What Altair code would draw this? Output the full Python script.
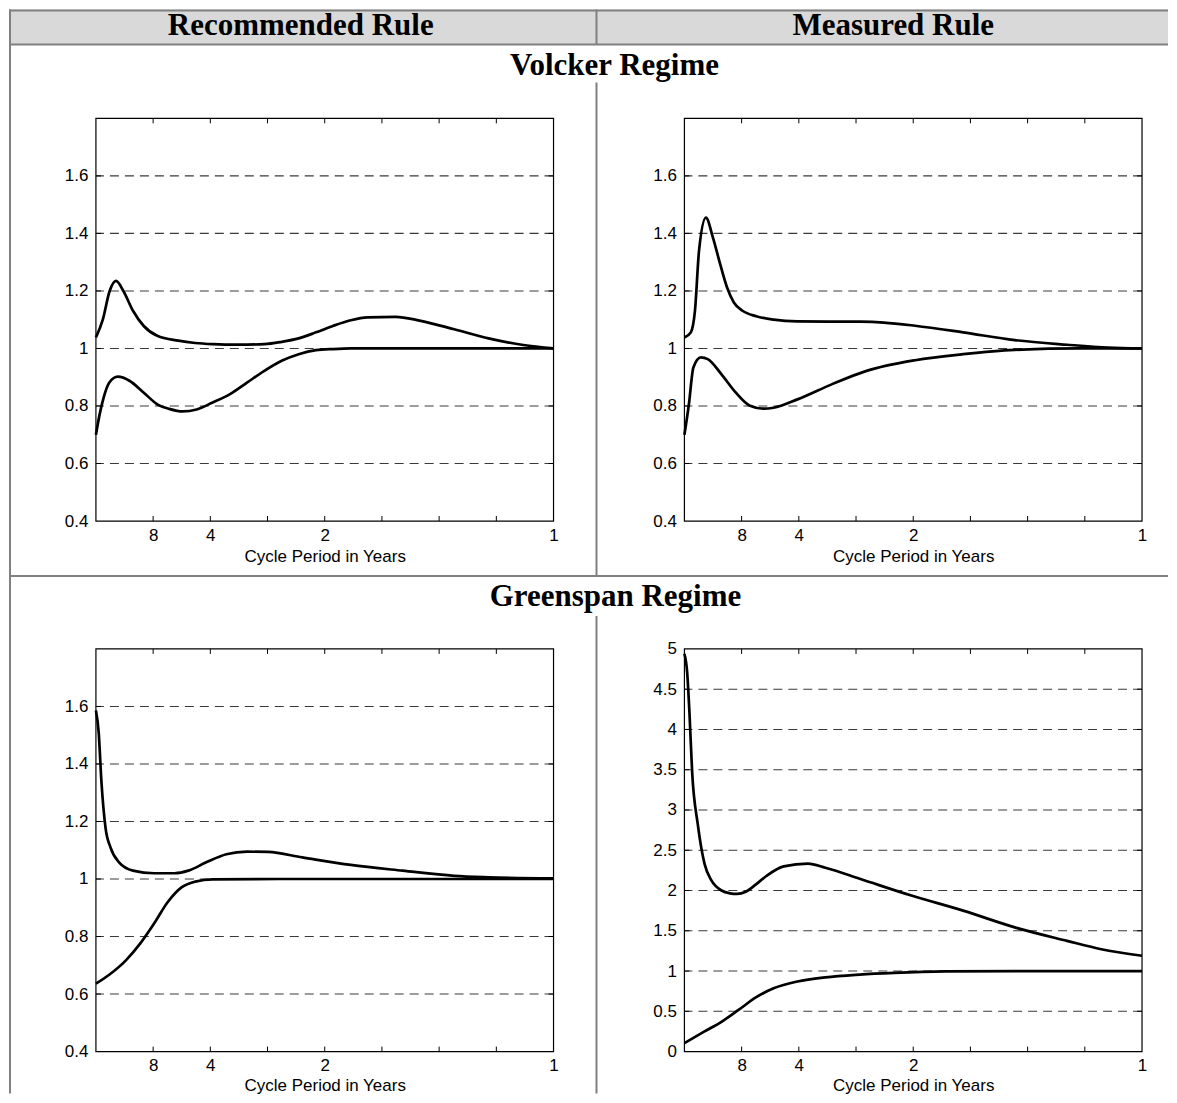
import altair as alt
import pandas as pd

# ---------------- data (frequency in cycles per year, gain) ----------------
# Volcker regime, recommended rule
VR_UP_F = [0, 0.015, 0.03, 0.044, 0.06, 0.081, 0.104, 0.134, 0.18, 0.217, 0.255, 0.31,
           0.368, 0.406, 0.443, 0.481, 0.519, 0.557, 0.594, 0.655, 0.707, 0.783, 0.858, 0.934, 1.0]
VR_UP_V = [1.038, 1.1, 1.2, 1.235, 1.2, 1.131, 1.079, 1.044, 1.027, 1.019, 1.015, 1.013,
           1.015, 1.023, 1.035, 1.056, 1.079, 1.098, 1.108, 1.11, 1.097, 1.067, 1.035, 1.012, 1.0]
VR_LO_F = [0, 0.008, 0.017, 0.029, 0.048, 0.074, 0.104, 0.135, 0.16, 0.19, 0.22, 0.255, 0.293,
           0.33, 0.368, 0.406, 0.443, 0.481, 0.519, 0.557, 0.7, 0.85, 1.0]
VR_LO_V = [0.70, 0.77, 0.83, 0.881, 0.902, 0.887, 0.847, 0.805, 0.79, 0.781, 0.788, 0.812, 0.841,
           0.881, 0.922, 0.957, 0.98, 0.994, 0.998, 1.0, 1.0, 1.0, 1.0]

# Volcker regime, measured rule
VM_UP_F = [0, 0.014, 0.023, 0.032, 0.047, 0.062, 0.078, 0.093, 0.108, 0.127, 0.157, 0.195,
           0.247, 0.383, 0.436, 0.504, 0.609, 0.722, 0.836, 0.926, 1.0]
VM_UP_V = [1.038, 1.056, 1.131, 1.341, 1.455, 1.387, 1.294, 1.213, 1.16, 1.131, 1.112, 1.1,
           1.094, 1.093, 1.09, 1.079, 1.056, 1.029, 1.013, 1.003, 1.0]
VM_LO_F = [0, 0.0098, 0.0196, 0.036, 0.051, 0.081, 0.112, 0.142, 0.172, 0.195, 0.247, 0.323,
           0.398, 0.504, 0.609, 0.722, 0.866, 1.0]
VM_LO_V = [0.70, 0.806, 0.934, 0.969, 0.963, 0.91, 0.847, 0.802, 0.791, 0.794, 0.823, 0.876,
           0.922, 0.959, 0.98, 0.995, 1.0, 1.0]

# Greenspan regime, recommended rule
GR_UP_F = [0, 0.006, 0.012, 0.021, 0.032, 0.051, 0.081, 0.127, 0.172, 0.202, 0.24, 0.285,
           0.33, 0.376, 0.451, 0.557, 0.67, 0.783, 0.858, 1.0]
GR_UP_V = [1.586, 1.511, 1.339, 1.178, 1.109, 1.057, 1.029, 1.02, 1.02, 1.029, 1.057, 1.086,
           1.095, 1.094, 1.075, 1.049, 1.029, 1.011, 1.006, 1.002]
GR_LO_F = [0, 0.029, 0.066, 0.097, 0.127, 0.157, 0.187, 0.217, 0.255, 0.4, 0.6, 0.8, 1.0]
GR_LO_V = [0.636, 0.667, 0.718, 0.776, 0.845, 0.92, 0.971, 0.991, 0.999, 1.0, 1.0, 1.0, 1.0]

# Greenspan regime, measured rule
GM_UP_F = [0, 0.006, 0.011, 0.017, 0.029, 0.044, 0.059, 0.081, 0.1, 0.115, 0.134, 0.155, 0.179,
           0.217, 0.27, 0.308, 0.383, 0.496, 0.609, 0.722, 0.836, 0.911, 1.0]
GM_UP_V = [4.94, 4.71, 4.21, 3.46, 2.83, 2.33, 2.125, 2.0, 1.965, 1.958, 1.985, 2.07, 2.18,
           2.3, 2.333, 2.283, 2.146, 1.937, 1.75, 1.542, 1.375, 1.271, 1.19]
GM_LO_F = [0, 0.044, 0.081, 0.119, 0.157, 0.195, 0.247, 0.308, 0.383, 0.458, 0.571, 0.75, 1.0]
GM_LO_V = [0.104, 0.25, 0.37, 0.52, 0.675, 0.785, 0.87, 0.922, 0.956, 0.977, 0.995, 1.0, 1.0]

# axes
FREQ_TICKS = [0.125, 0.25, 0.375, 0.5, 0.625, 0.75, 0.875]
X_LABEL_VALUES = [0.125, 0.25, 0.5, 1.0]
Y_VALUES_A = [0.4, 0.6, 0.8, 1.0, 1.2, 1.4, 1.6, 1.8]
Y_GRID_A = [0.6, 0.8, 1.0, 1.2, 1.4, 1.6]
Y_VALUES_B = [0, 0.5, 1.0, 1.5, 2.0, 2.5, 3.0, 3.5, 4.0, 4.5, 5.0]
Y_GRID_B = [0.5, 1.0, 1.5, 2.0, 2.5, 3.0, 3.5, 4.0, 4.5]

COL_HEADERS = ["Recommended Rule", "Measured Rule"]
ROW_HEADERS = ["Volcker Regime", "Greenspan Regime"]
X_TITLE = "Cycle Period in Years"

W, H = 458, 403
SANS = "Liberation Sans"
SERIF = "Liberation Serif"
BORDER = "#808080"
FS = 17


def panel(up_f, up_v, lo_f, lo_v, ydom, yvals, ygrid, label_expr, title_pad=3, extra=None):
    df = pd.DataFrame({
        "f": up_f + lo_f,
        "v": up_v + lo_v,
        "s": ["upper"] * len(up_f) + ["lower"] * len(lo_f),
    })
    xs = alt.Scale(domain=[0, 1], nice=False, zero=False)
    ys = alt.Scale(domain=ydom, nice=False, zero=False)
    xax = alt.Axis(
        values=X_LABEL_VALUES,
        labelExpr="'' + round(1 / datum.value)",
        title=X_TITLE, ticks=False, domain=False, grid=False,
        labelFlush=False, labelPadding=6, titlePadding=title_pad,
        labelFont=SANS, labelFontSize=FS, labelColor="black",
        titleFont=SANS, titleFontSize=FS, titleFontWeight="normal", titleColor="black")
    yax = alt.Axis(
        values=yvals, labelExpr=label_expr, title=None,
        ticks=False, domain=False, grid=False, labelPadding=8,
        labelFont=SANS, labelFontSize=FS, labelColor="black")

    grid = alt.Chart(pd.DataFrame({"v": ygrid})).mark_rule(
        color="#3a3a3a", strokeWidth=1.1, strokeDash=[9, 6]
    ).encode(y=alt.Y("v:Q", scale=ys, axis=yax))

    xt = pd.DataFrame({"f": FREQ_TICKS})
    xt_top = alt.Chart(xt).mark_rule(color="black", strokeWidth=1).encode(
        x=alt.X("f:Q", scale=xs, axis=xax), y=alt.value(0), y2=alt.value(5))
    xt_bot = alt.Chart(xt).mark_rule(color="black", strokeWidth=1).encode(
        x=alt.X("f:Q", scale=xs, axis=xax), y=alt.value(H - 5), y2=alt.value(H))
    yt = pd.DataFrame({"v": ygrid})
    yt_l = alt.Chart(yt).mark_rule(color="black", strokeWidth=1).encode(
        y=alt.Y("v:Q", scale=ys, axis=yax), x=alt.value(0), x2=alt.value(5))
    yt_r = alt.Chart(yt).mark_rule(color="black", strokeWidth=1).encode(
        y=alt.Y("v:Q", scale=ys, axis=yax), x=alt.value(W - 5), x2=alt.value(W))

    frame = alt.Chart(pd.DataFrame({"a": [0]})).mark_rect(
        fill=None, fillOpacity=0, stroke="black", strokeWidth=1.2
    ).encode(x=alt.value(0), x2=alt.value(W), y=alt.value(0), y2=alt.value(H))

    lines = alt.Chart(df).mark_line(
        color="black", strokeWidth=2.7, interpolate="monotone"
    ).encode(
        x=alt.X("f:Q", scale=xs, axis=xax),
        y=alt.Y("v:Q", scale=ys, axis=yax),
        detail="s:N",
    )
    layers = [grid, xt_top, xt_bot, yt_l, yt_r, frame, lines]
    if extra:
        layers = extra + layers
    return alt.layer(*layers).properties(width=W, height=H)


# ------- table decoration (positions relative to the top-left plot area) -------
base = alt.Chart(pd.DataFrame({"a": [0]}))
LEFT, RIGHT, TOP, BOTTOM = -87, 1073, -109, 976
DIV_X = 501


def hline(y, x1=LEFT, x2=RIGHT):
    return base.mark_rule(color=BORDER, strokeWidth=2).encode(
        x=alt.value(x1), x2=alt.value(x2), y=alt.value(y))


def vline(x, y1, y2):
    return base.mark_rule(color=BORDER, strokeWidth=2).encode(
        x=alt.value(x), y=alt.value(y1), y2=alt.value(y2))


def label(txt, x, y):
    return base.mark_text(
        text=txt, font=SERIF, fontSize=31, fontWeight="bold",
        align="center", baseline="alphabetic", color="black"
    ).encode(x=alt.value(x), y=alt.value(y))


decor = [
    base.mark_rect(color="#d9d9d9").encode(
        x=alt.value(LEFT), x2=alt.value(RIGHT), y=alt.value(TOP), y2=alt.value(-74)),
    hline(TOP + 1),
    hline(-74),
    hline(458),
    vline(LEFT + 1, TOP, BOTTOM),
    vline(DIV_X, TOP, -74),
    vline(DIV_X, -36, 458),
    vline(DIV_X, 498, BOTTOM),
    label(COL_HEADERS[0], 205, -83),
    label(COL_HEADERS[1], 798, -83),
    label(ROW_HEADERS[0], 519, -43),
    label(ROW_HEADERS[1], 520, 488),
]

LBL_A = "datum.value > 1.75 ? '' : '' + datum.value"
LBL_B = "'' + datum.value"

tl = panel(VR_UP_F, VR_UP_V, VR_LO_F, VR_LO_V, [0.4, 1.8], Y_VALUES_A, Y_GRID_A, LBL_A,
           title_pad=6, extra=decor)
tr = panel(VM_UP_F, VM_UP_V, VM_LO_F, VM_LO_V, [0.4, 1.8], Y_VALUES_A, Y_GRID_A, LBL_A, title_pad=6)
bl = panel(GR_UP_F, GR_UP_V, GR_LO_F, GR_LO_V, [0.4, 1.8], Y_VALUES_A, Y_GRID_A, LBL_A, title_pad=4)
br = panel(GM_UP_F, GM_UP_V, GM_LO_F, GM_LO_V, [0, 5], Y_VALUES_B, Y_GRID_B, LBL_B, title_pad=4)

chart = alt.concat(
    tl, tr, bl, br, columns=2,
    spacing=alt.RowColnumber(row=128, column=131),
    bounds="flush",
).properties(
    padding=0, background="white"
).configure_view(
    strokeWidth=0
)

chart.save("out.html", embed_options={"renderer": "svg", "actions": False})
